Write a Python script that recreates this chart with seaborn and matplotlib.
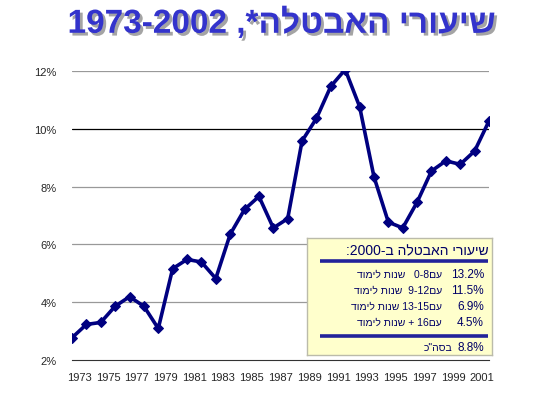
import re
import pandas as pd
import seaborn as sns
import matplotlib.pyplot as plt
import matplotlib.patheffects as pe

# unemployment rate by year (%)
years = list(range(1973, 2003))
rates = [2.77, 3.23, 3.30, 3.86, 4.19, 3.86, 3.09, 5.16, 5.48, 5.39,
         4.82, 6.35, 7.21, 7.66, 6.57, 6.89, 9.58, 10.36, 11.47, 12.05,
         10.77, 8.34, 6.77, 6.57, 7.46, 8.54, 8.89, 8.77, 9.23, 10.27]

title = "שיעורי האבטלה*, 1973-2002"
box_title = "שיעורי האבטלה ב-2000:"
group_labels = ["עם0-8   שנות לימוד", "עם9-12  שנות לימוד", "עם13-15 שנות לימוד", "עם16 + שנות לימוד"]
group_rates = ["13.2%", "11.5%", "6.9%", "4.5%"]
total_label = "בסה\"כ"
total_rate = "8.8%"


def rtl(s):
    # matplotlib has no bidi: lay the logical string out right-to-left,
    # keeping number runs in their own order
    parts = re.findall(r'\d[\d.\-]*%?|.', s)
    return ''.join(reversed(parts))


sns.set_style("white")
plt.rcParams['font.family'] = ['Liberation Sans', 'DejaVu Sans']

df = pd.DataFrame({"year": years, "rate": rates})

W, H = 552, 402
fig = plt.figure(figsize=(W / 100, H / 100), dpi=100)
ax = fig.add_axes([72 / W, 41 / H, 417 / W, 289 / H])

for v in [4, 6, 8, 12]:
    ax.axhline(v, color="#999999", lw=0.9, zorder=1)
ax.axhline(10, color="black", lw=0.9, zorder=1)

sns.lineplot(data=df, x="year", y="rate", ax=ax, color="#000080", lw=2.6,
             marker="D", markersize=5.5, markeredgecolor="#000080", zorder=3)

ax.set_xlim(1973, 2002)
ax.set_ylim(2, 12)
ax.set_yticks([2, 4, 6, 8, 10, 12])
ax.set_yticklabels([f"{v}%" for v in [2, 4, 6, 8, 10, 12]], fontsize=8)
ax.tick_params(axis="y", length=0, pad=11)

odd = [y for y in years if y % 2 == 1]
ax.set_xticks(odd)
ax.set_xticklabels([])
ax.set_xticks([y + 0.5 for y in odd], minor=True)
ax.set_xticklabels([str(y) for y in odd], minor=True, fontsize=8)
ax.tick_params(axis="x", which="major", direction="out", length=4, width=0.8, color="#333333")
ax.tick_params(axis="x", which="minor", length=0, pad=9)
ax.set_xlabel("")
ax.set_ylabel("")
for side in ["top", "left", "right"]:
    ax.spines[side].set_visible(False)
ax.spines["bottom"].set_color("#333333")
ax.spines["bottom"].set_linewidth(0.8)

fig.text(282 / W, 1 - 25 / H, rtl(title), ha="center", va="center",
         fontsize=24, fontweight="bold", color="#3333CC",
         path_effects=[pe.SimplePatchShadow(offset=(2, -2), shadow_rgbFace="#9A9A9A", alpha=0.9),
                       pe.Normal()])

# info box with the 2000 breakdown
bx = fig.add_axes([307 / W, (H - 356) / H, 185 / W, 117 / H], zorder=5)
bx.set_facecolor("#FFFFCC")
bx.set_xlim(0, 185)
bx.set_ylim(117, 0)
bx.set_xticks([])
bx.set_yticks([])
for s in bx.spines.values():
    s.set_color("#BBBBAA")
    s.set_linewidth(1)

navy = "#000066"
bx.text(182, 12, rtl(box_title), ha="right", va="center", fontsize=10, color=navy)
bx.plot([13, 181], [22.7, 22.7], color="#22229A", lw=2.6, solid_capstyle="butt")
for i, (lab, r) in enumerate(zip(group_labels, group_rates)):
    yy = 36 + 16 * i
    bx.text(177, yy, r, ha="right", va="center", fontsize=8.5, color=navy)
    bx.text(135, yy, rtl(lab), ha="right", va="center", fontsize=7.5, color=navy)
bx.plot([13, 181], [97.7, 97.7], color="#22229A", lw=2.6, solid_capstyle="butt")
bx.text(177, 109.5, total_rate, ha="right", va="center", fontsize=8.5, color=navy)
bx.text(145, 109.5, rtl(total_label), ha="right", va="center", fontsize=7.5, color=navy)

fig.savefig("out.png", dpi=100)
